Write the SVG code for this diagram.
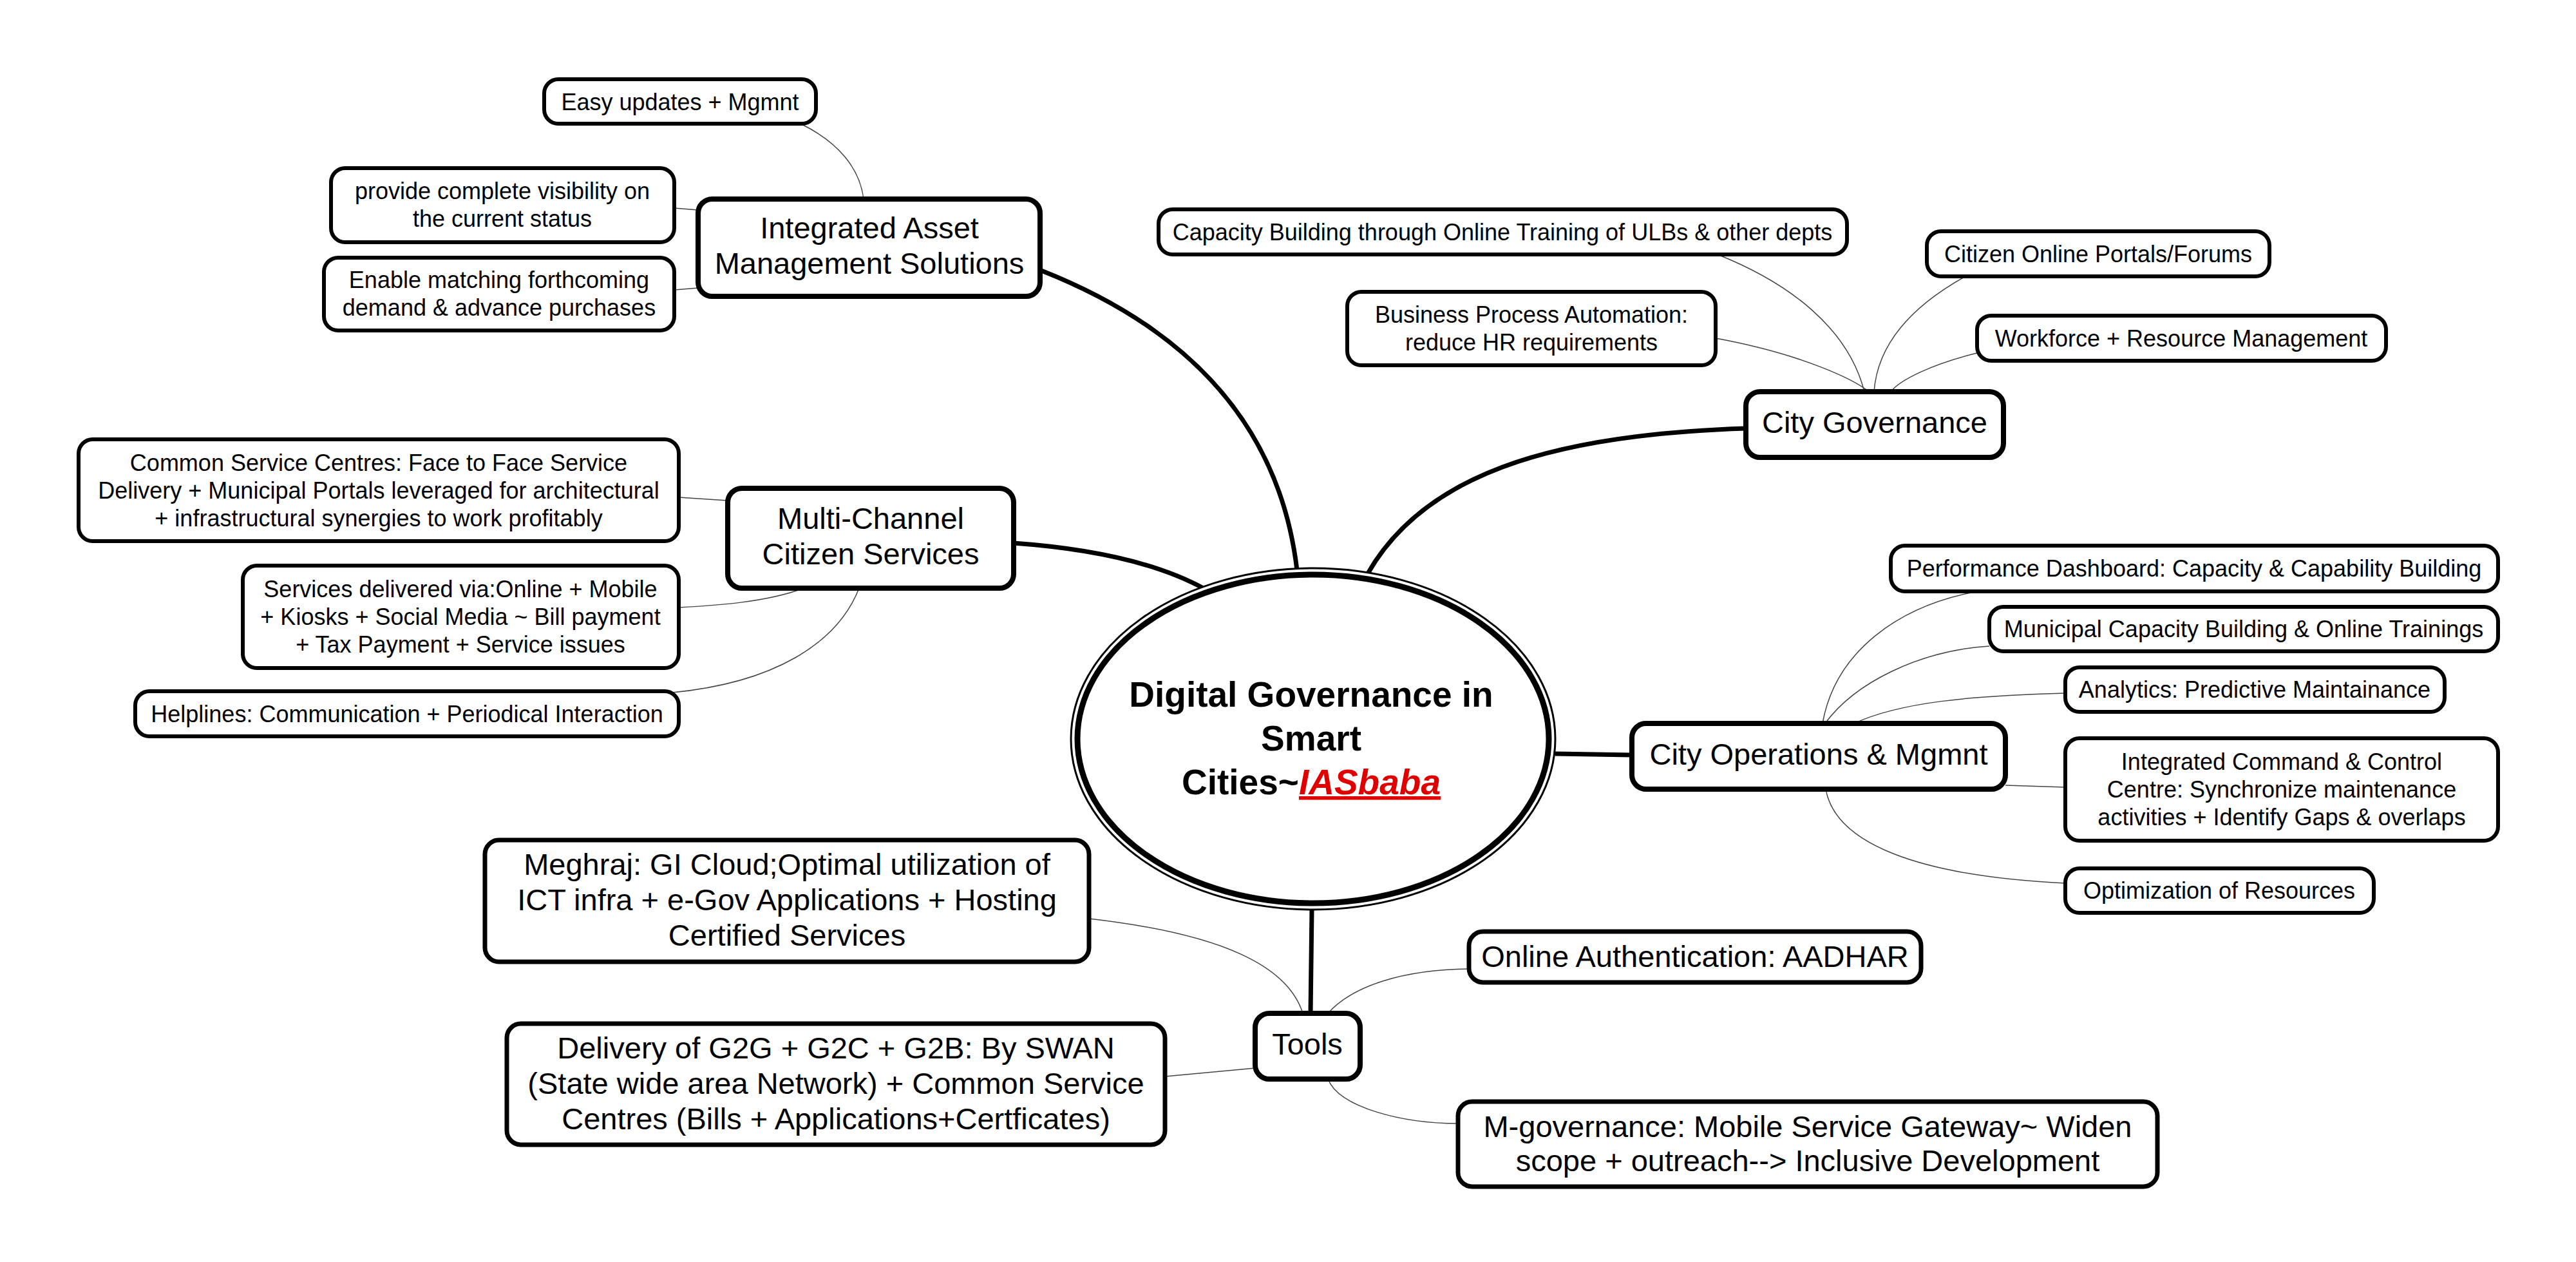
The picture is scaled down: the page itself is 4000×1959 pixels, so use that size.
<svg xmlns="http://www.w3.org/2000/svg" width="4000" height="1959" viewBox="0 0 4000 1959">
<style>
.bg{fill:#fff}
.leaf{fill:#fff;stroke:#000;stroke-width:6}
.main{fill:#fff;stroke:#000;stroke-width:8}
.tl{fill:#fff;stroke:#000;stroke-width:7}
.t{font-family:"Liberation Sans",Arial,sans-serif;font-size:36px;fill:#000;text-anchor:middle}
.tm{font-family:"Liberation Sans",Arial,sans-serif;font-size:47px;fill:#000;text-anchor:middle}
.tc{font-family:"Liberation Sans",Arial,sans-serif;font-size:55px;font-weight:bold;fill:#000;text-anchor:middle}
.thin{fill:none;stroke:#444;stroke-width:1.5}
.thick{fill:none;stroke:#000;stroke-width:7}
</style>
<rect class="bg" x="0" y="0" width="4000" height="1959"/>
<g id="connectors">
<path class="thick" d="M1617,420 C1820,500 1985,640 2014,885"/>
<path class="thick" d="M2124,890 C2210,740 2400,675 2711,665"/>
<path class="thick" d="M1574,843 C1700,852 1800,875 1872,915"/>
<path class="thick" d="M2415,1170 L2534,1172"/>
<path class="thick" d="M2037,1412 L2035,1573"/>
<path class="thin" d="M1245,193 C1300,220 1335,260 1341,309"/>
<path class="thin" d="M1047,323 L1084,326"/>
<path class="thin" d="M1047,450 L1084,447"/>
<path class="thin" d="M2667,395 C2780,440 2870,510 2895,608"/>
<path class="thin" d="M3052,429 C2960,480 2915,540 2910,608"/>
<path class="thin" d="M2664,525 C2800,550 2880,590 2902,608"/>
<path class="thin" d="M3070,548 C3000,565 2950,590 2936,608"/>
<path class="thin" d="M1054,772 L1130,777"/>
<path class="thin" d="M1248,913 C1190,935 1110,940 1054,943"/>
<path class="thin" d="M1334,913 C1300,1000 1200,1060 1044,1075"/>
<path class="thin" d="M2830,1123 C2850,1010 2950,940 3071,918"/>
<path class="thin" d="M2834,1123 C2880,1060 2980,1010 3089,1003"/>
<path class="thin" d="M2879,1123 C2950,1090 3060,1080 3207,1076"/>
<path class="thin" d="M3114,1219 L3207,1222"/>
<path class="thin" d="M2835,1225 C2850,1310 2980,1360 3207,1371"/>
<path class="thin" d="M1691,1426 C1900,1450 2000,1500 2023,1573"/>
<path class="thin" d="M2062,1573 C2100,1530 2180,1505 2281,1504"/>
<path class="thin" d="M1809,1671 L1949,1658"/>
<path class="thin" d="M2062,1675 C2080,1720 2180,1744 2264,1744"/>
</g>
<g id="center">
<ellipse cx="2039" cy="1147" rx="376" ry="265" fill="#fff" stroke="#000" stroke-width="3"/>
<ellipse cx="2039" cy="1147" rx="366" ry="255" fill="#fff" stroke="#000" stroke-width="9"/>
<text class="tc" x="2036" y="1097">Digital Governance in</text>
<text class="tc" x="2036" y="1165">Smart</text>
<text class="tc" x="2036" y="1233">Cities~<tspan fill="#e00000" font-style="italic" text-decoration="underline">IASbaba</tspan></text>
</g>
<g id="iams">
<rect class="main" x="1084" y="309" width="531" height="151" rx="22"/>
<text class="tm" x="1350" y="370">Integrated Asset</text>
<text class="tm" x="1350" y="425">Management Solutions</text>
</g>
<g id="easy">
<rect class="leaf" x="845" y="123" width="422" height="69" rx="22"/>
<text class="t" x="1056" y="171">Easy updates + Mgmnt</text>
</g>
<g id="visibility">
<rect class="leaf" x="514" y="261" width="533" height="115" rx="22"/>
<text class="t" x="780" y="309">provide complete visibility on</text>
<text class="t" x="780" y="352">the current status</text>
</g>
<g id="enable">
<rect class="leaf" x="503" y="400" width="544" height="113" rx="22"/>
<text class="t" x="775" y="447">Enable matching forthcoming</text>
<text class="t" x="775" y="490">demand &amp; advance purchases</text>
</g>
<g id="citygov">
<rect class="main" x="2711" y="608" width="400" height="102" rx="22"/>
<text class="tm" x="2911" y="672">City Governance</text>
</g>
<g id="capacity">
<rect class="leaf" x="1799" y="325" width="1069" height="70" rx="22"/>
<text class="t" x="2333" y="373">Capacity Building through Online Training of ULBs &amp; other depts</text>
</g>
<g id="portals">
<rect class="leaf" x="2992" y="359" width="532" height="70" rx="22"/>
<text class="t" x="3258" y="407">Citizen Online Portals/Forums</text>
</g>
<g id="bpa">
<rect class="leaf" x="2092" y="453" width="572" height="114" rx="22"/>
<text class="t" x="2378" y="501">Business Process Automation:</text>
<text class="t" x="2378" y="544">reduce HR requirements</text>
</g>
<g id="workforce">
<rect class="leaf" x="3070" y="490" width="635" height="70" rx="22"/>
<text class="t" x="3387" y="538">Workforce + Resource Management</text>
</g>
<g id="multichannel">
<rect class="main" x="1130" y="758" width="444" height="155" rx="22"/>
<text class="tm" x="1352" y="821">Multi-Channel</text>
<text class="tm" x="1352" y="876">Citizen Services</text>
</g>
<g id="csc">
<rect class="leaf" x="122" y="682" width="932" height="158" rx="22"/>
<text class="t" x="588" y="731">Common Service Centres: Face to Face Service</text>
<text class="t" x="588" y="774">Delivery + Municipal Portals leveraged for architectural</text>
<text class="t" x="588" y="817">+ infrastructural synergies to work profitably</text>
</g>
<g id="delivered">
<rect class="leaf" x="377" y="878" width="677" height="159" rx="22"/>
<text class="t" x="715" y="927">Services delivered via:Online + Mobile</text>
<text class="t" x="715" y="970">+ Kiosks + Social Media ~ Bill payment</text>
<text class="t" x="715" y="1013">+ Tax Payment + Service issues</text>
</g>
<g id="helplines">
<rect class="leaf" x="210" y="1073" width="844" height="70" rx="22"/>
<text class="t" x="632" y="1121">Helplines: Communication + Periodical Interaction</text>
</g>
<g id="cityops">
<rect class="main" x="2534" y="1123" width="580" height="102" rx="22"/>
<text class="tm" x="2824" y="1187">City Operations &amp; Mgmnt</text>
</g>
<g id="dashboard">
<rect class="leaf" x="2936" y="847" width="943" height="71" rx="22"/>
<text class="t" x="3407" y="895">Performance Dashboard: Capacity &amp; Capability Building</text>
</g>
<g id="municipal">
<rect class="leaf" x="3089" y="942" width="790" height="69" rx="22"/>
<text class="t" x="3484" y="989">Municipal Capacity Building &amp; Online Trainings</text>
</g>
<g id="analytics">
<rect class="leaf" x="3207" y="1036" width="589" height="69" rx="22"/>
<text class="t" x="3501" y="1083">Analytics: Predictive Maintainance</text>
</g>
<g id="iccc">
<rect class="leaf" x="3207" y="1146" width="672" height="159" rx="22"/>
<text class="t" x="3543" y="1195">Integrated Command &amp; Control</text>
<text class="t" x="3543" y="1238">Centre: Synchronize maintenance</text>
<text class="t" x="3543" y="1281">activities + Identify Gaps &amp; overlaps</text>
</g>
<g id="optimization">
<rect class="leaf" x="3207" y="1348" width="479" height="69" rx="22"/>
<text class="t" x="3446" y="1395">Optimization of Resources</text>
</g>
<g id="tools">
<rect class="main" x="1949" y="1573" width="163" height="102" rx="22"/>
<text class="tm" x="2030" y="1637">Tools</text>
</g>
<g id="meghraj">
<rect class="tl" x="753" y="1304" width="938" height="189" rx="22"/>
<text class="tm" x="1222" y="1358">Meghraj: GI Cloud;Optimal utilization of</text>
<text class="tm" x="1222" y="1413">ICT infra + e-Gov Applications + Hosting</text>
<text class="tm" x="1222" y="1468">Certified Services</text>
</g>
<g id="aadhar">
<rect class="tl" x="2281" y="1446" width="702" height="79" rx="22"/>
<text class="tm" x="2632" y="1501">Online Authentication: AADHAR</text>
</g>
<g id="swan">
<rect class="tl" x="787" y="1589" width="1022" height="188" rx="22"/>
<text class="tm" x="1298" y="1643">Delivery of G2G + G2C + G2B: By SWAN</text>
<text class="tm" x="1298" y="1698">(State wide area Network) + Common Service</text>
<text class="tm" x="1298" y="1753">Centres (Bills + Applications+Certficates)</text>
</g>
<g id="mgov">
<rect class="tl" x="2264" y="1710" width="1086" height="132" rx="22"/>
<text class="tm" x="2807" y="1765">M-governance: Mobile Service Gateway~ Widen</text>
<text class="tm" x="2807" y="1818">scope + outreach--&gt; Inclusive Development</text>
</g>
</svg>
